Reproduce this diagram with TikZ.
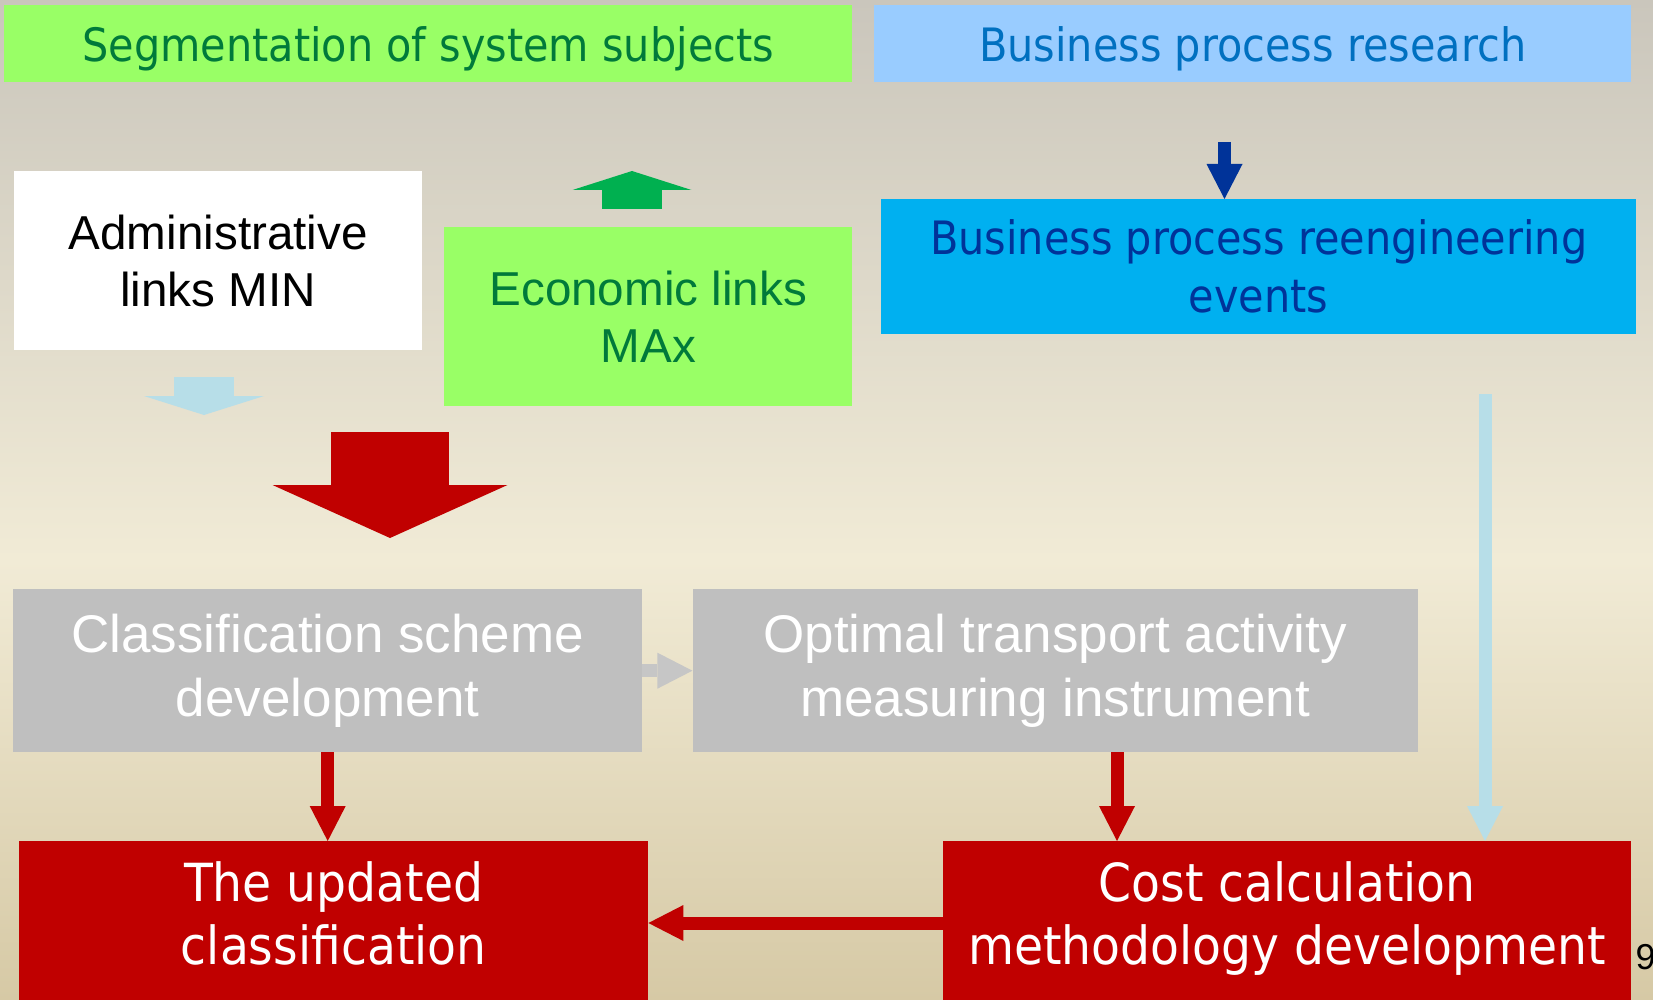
\documentclass[tikz,border=0pt]{standalone}
\usepackage{fontspec}
\setmainfont{Liberation Sans}
\newfontfamily\tahomalike[FakeStretch=0.9]{DejaVu Sans}
\usetikzlibrary{arrows.meta,positioning}

\definecolor{bgtop}{HTML}{CAC6BC}
\definecolor{bgmid}{HTML}{F1EBD6}
\definecolor{bgbot}{HTML}{D6C9A5}
\definecolor{lightgreen}{HTML}{99FF66}
\definecolor{darkgreen}{HTML}{007A3A}
\definecolor{paleblue}{HTML}{99CCFF}
\definecolor{midblue}{HTML}{0070C0}
\definecolor{skyblue}{HTML}{00B0F0}
\definecolor{navyblue}{HTML}{003399}
\definecolor{arrowgreen}{HTML}{00B050}
\definecolor{iceblue}{HTML}{B7DEE8}
\definecolor{darkred}{HTML}{C00000}
\definecolor{boxgrey}{HTML}{BFBFBF}
\definecolor{arrowgrey}{HTML}{C6C6C6}

\begin{document}
\begin{tikzpicture}[x=1pt, y=-1pt,
    box/.style={rectangle, inner sep=0pt, anchor=north west, align=center},
    topfont/.style={font=\tahomalike\fontsize{46}{58}\selectfont},
    redfont/.style={font=\tahomalike\fontsize{52.5}{63}\selectfont},
    midfont/.style={font=\fontsize{47.6}{57}\selectfont},
    bigfont/.style={font=\fontsize{53}{64}\selectfont},
    slimarrow/.style={line width=13pt, -{Triangle[length=35pt, width=36pt, line width=0pt]}},
    blockarrow/.style n args={3}{line width=#1, -{Triangle[width=#2, length=#3, line width=0pt]}}
    ]

    % background
    \useasboundingbox (0,0) rectangle (1653,1000);
    \shade[top color=bgtop, bottom color=bgmid] (0,0) rectangle (1653,560);
    \shade[top color=bgmid, bottom color=bgbot] (0,560) rectangle (1653,1000);

    \node[box, topfont, text depth=0pt, fill=lightgreen, text=darkgreen, minimum width=848pt, minimum height=77pt] (seg) at (4,5) {Segmentation of system subjects};
    \node[box, topfont, text depth=0pt, fill=paleblue, text=midblue, minimum width=757pt, minimum height=77pt] (bpr) at (874,5) {Business process research};
    \node[box, midfont, fill=white, minimum width=408pt, minimum height=179pt] (adm) at (14,171) {Administrative\\links MIN};
    \node[box, midfont, fill=lightgreen, text=darkgreen, minimum width=408pt, minimum height=179pt] (econ) at (444,227) {Economic links\\MAx};
    \node[box, topfont, fill=skyblue, text=navyblue, minimum width=755pt, minimum height=135pt] (reng) at (881,199) {Business process reengineering\\events};
    \node[box, bigfont, fill=boxgrey, text=white, minimum width=629pt, minimum height=163pt] (clas) at (13,589) {Classification scheme\\development};
    \node[box, bigfont, fill=boxgrey, text=white, minimum width=725pt, minimum height=163pt] (optm) [right=50pt of clas] {Optimal transport activity\\measuring instrument};
    \node[box, redfont, fill=darkred, text=white, minimum width=629pt, minimum height=159pt] (upd) at (19,841) {The updated\strut\\classification\strut};
    \node[box, redfont, fill=darkred, text=white, minimum width=688pt, minimum height=159pt] (cost) at (943,841) {Cost calculation\strut\\methodology development\strut};
    \node[anchor=west, font=\fontsize{36}{36}\selectfont] (pg) at (1632,957) {9};

    \coordinate (lb1) at (204,377);
    \coordinate (lb2) at (204,415);
    \coordinate (ga1) at (632,209);
    \coordinate (ga2) at (632,171);
    \coordinate (ra1) at (390,432);
    \coordinate (ra2) at (390,538);
    \coordinate (db) at (1224.5,142);
    \coordinate (lb3) at (1485,394);
    \coordinate (r2) at (1117,0);
    \coordinate (rh) at (0,923);

    \path
    (lb1) edge[iceblue, blockarrow={60pt}{120pt}{19pt}]      (lb2)
    (ga1) edge[arrowgreen, blockarrow={60pt}{119pt}{19pt}]   (ga2)
    (ra1) edge[darkred, blockarrow={118pt}{235pt}{53pt}]     (ra2)
    (db) edge[navyblue, slimarrow]                           (db |- reng.north)
    (clas) edge[arrowgrey, slimarrow]                        (optm)
    (clas.south) edge[darkred, slimarrow]                    (clas.south |- upd.north)
    (r2 |- optm.south) edge[darkred, slimarrow]              (r2 |- cost.north)
    (lb3) edge[iceblue, slimarrow]                           (lb3 |- cost.north)
    (rh -| cost.west) edge[darkred, slimarrow]               (rh -| upd.east);
\end{tikzpicture}
\end{document}
